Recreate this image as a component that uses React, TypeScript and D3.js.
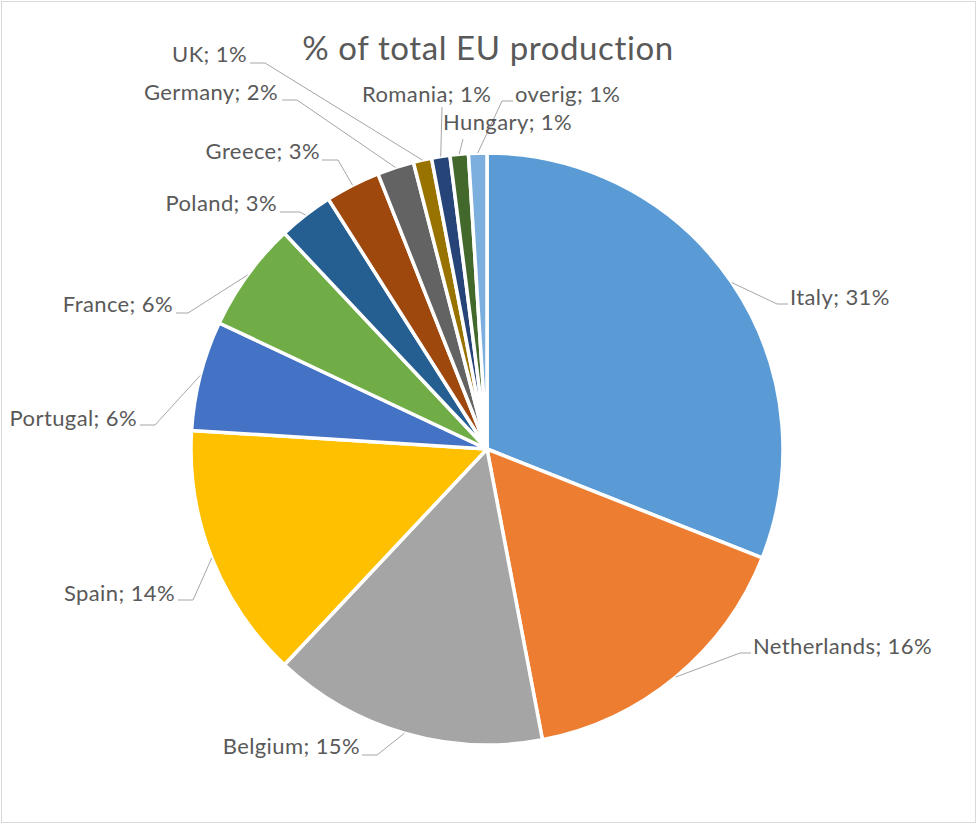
import React from "react";
import * as d3 from "d3";

const categories = ["Italy", "Netherlands", "Belgium", "Spain", "Portugal", "France", "Poland", "Greece", "Germany", "UK", "Romania", "Hungary", "overig"];
const shares = [31, 16, 15, 14, 6, 6, 3, 3, 2, 1, 1, 1, 1];
const colors = ["#5b9bd5", "#ed7d31", "#a5a5a5", "#ffc000", "#4472c4", "#70ad47", "#255e91", "#9e480e", "#636363", "#997300", "#264478", "#43682b", "#7cafdd"];
const title = "% of total EU production";

// label layout: text anchor point and leader bend points (from text side toward pie)
const labelLayout: { x: number; y: number; anchor: "start" | "end"; pts: [number, number][] }[] = [
  { x: 790, y: 305, anchor: "start", pts: [[788, 304], [777, 304]] },
  { x: 753, y: 654, anchor: "start", pts: [[751, 653], [740, 653]] },
  { x: 360, y: 754, anchor: "end", pts: [[362, 755], [377, 755]] },
  { x: 175, y: 601, anchor: "end", pts: [[178, 600], [193, 600]] },
  { x: 137, y: 426, anchor: "end", pts: [[140, 425], [155, 425]] },
  { x: 173, y: 312, anchor: "end", pts: [[176, 313], [188, 313]] },
  { x: 277, y: 211, anchor: "end", pts: [[280, 212], [300, 212]] },
  { x: 320, y: 159, anchor: "end", pts: [[322, 160], [338, 160]] },
  { x: 278, y: 100, anchor: "end", pts: [[282, 100], [297, 100]] },
  { x: 247, y: 62, anchor: "end", pts: [[250, 63], [265, 63]] },
  { x: 362, y: 102, anchor: "start", pts: [[442, 107]] },
  { x: 443, y: 130, anchor: "start", pts: [[463, 139]] },
  { x: 515, y: 102, anchor: "start", pts: [[513, 101], [502, 101]] },
];

const W = 977;
const H = 824;
const cx = 487;
const cy = 449;
const R = 296;

export default function App() {
  const pie = d3.pie<number>().sort(null).value((d) => d)(shares);
  const arc = d3.arc<d3.PieArcDatum<number>>().innerRadius(0).outerRadius(R);
  const edge = d3.arc<d3.PieArcDatum<number>>().innerRadius(R).outerRadius(R);
  const line = d3.line();
  const font = "Lato, 'Open Sans', sans-serif";

  return (
    <svg width={W} height={H} style={{ position: "absolute", left: 0, top: 0, background: "#fff" }}>
      <rect x={1.5} y={1.5} width={W - 3} height={H - 3} fill="#fff" stroke="#d9d9d9" strokeWidth={1} />
      <text x={488} y={60} textAnchor="middle" fontFamily={font} fontSize={33} letterSpacing={0.6} fill="#595959">
        {title}
      </text>
      <g transform={`translate(${cx},${cy})`}>
        {pie.map((d, i) => (
          <path key={categories[i]} d={arc(d) || ""} fill={colors[i]} stroke="#fff" strokeWidth={3.5} strokeLinejoin="round" />
        ))}
      </g>
      {pie.map((d, i) => {
        const [ex, ey] = edge.centroid(d);
        const L = labelLayout[i];
        const pts: [number, number][] = [...L.pts, [cx + ex, cy + ey]];
        return <path key={"l" + i} d={line(pts) || ""} fill="none" stroke="#a6a6a6" strokeWidth={1} />;
      })}
      {pie.map((d, i) => {
        const L = labelLayout[i];
        return (
          <text key={"t" + i} x={L.x} y={L.y} textAnchor={L.anchor} fontFamily={font} fontSize={22} letterSpacing={0.4} fill="#595959">
            {`${categories[i]}; ${shares[i]}%`}
          </text>
        );
      })}
    </svg>
  );
}
